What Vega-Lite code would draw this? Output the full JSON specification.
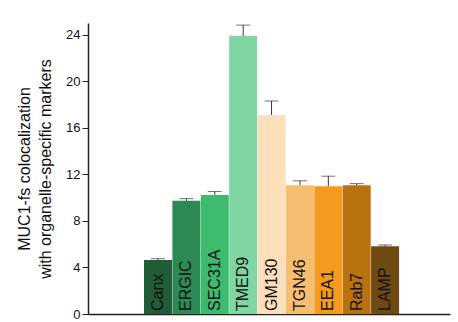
{
  "$schema": "https://vega.github.io/schema/vega-lite/v6.json",
  "width": 362,
  "height": 291,
  "autosize": {"type": "none"},
  "padding": {"left": 88, "top": 23, "right": 8, "bottom": 8},
  "background": "white",
  "config": {"view": {"stroke": null}, "font": "Liberation Sans"},
  "data": {
    "values": [
      {"pos": 1, "marker": "Canx", "value": 4.64, "upper": 4.75, "color": "#1f5c37"},
      {"pos": 2, "marker": "ERGIC", "value": 9.72, "upper": 9.91, "color": "#2e8a54"},
      {"pos": 3, "marker": "SEC31A", "value": 10.23, "upper": 10.52, "color": "#3cbb6c"},
      {"pos": 4, "marker": "TMED9", "value": 23.9, "upper": 24.82, "color": "#7fd6a2"},
      {"pos": 5, "marker": "GM130", "value": 17.1, "upper": 18.3, "color": "#fde0bb"},
      {"pos": 6, "marker": "TGN46", "value": 11.07, "upper": 11.44, "color": "#f7be72"},
      {"pos": 7, "marker": "EEA1", "value": 10.98, "upper": 11.84, "color": "#f49a1c"},
      {"pos": 8, "marker": "Rab7", "value": 11.07, "upper": 11.2, "color": "#b8720f"},
      {"pos": 9, "marker": "LAMP", "value": 5.82, "upper": 5.93, "color": "#6e4a12"}
    ]
  },
  "encoding": {
    "x": {
      "field": "pos",
      "type": "quantitative",
      "scale": {"domain": [-1.29, 11.11], "nice": false, "zero": false},
      "axis": {"title": null, "labels": false, "ticks": false, "grid": false, "domainColor": "#222", "domainWidth": 1.5}
    }
  },
  "layer": [
    {
      "mark": {"type": "bar", "size": 28},
      "encoding": {
        "y": {
          "field": "value",
          "type": "quantitative",
          "scale": {"domain": [0, 25], "nice": false},
          "axis": {
            "values": [0, 4, 8, 12, 16, 20, 24],
            "grid": false,
            "title": ["MUC1-fs colocalization", "with organelle-specific markers"],
            "titleFont": "Liberation Sans",
            "titleFontSize": 16,
            "titleFontWeight": "normal",
            "titleColor": "#111",
            "titlePadding": 12,
            "titleLineHeight": 21,
            "labelFontSize": 13,
            "labelColor": "#111",
            "labelPadding": 2,
            "tickSize": 6,
            "tickColor": "#222",
            "domainColor": "#222",
            "domainWidth": 1.5
          }
        },
        "color": {"field": "color", "type": "nominal", "scale": null}
      }
    },
    {
      "mark": {"type": "rule", "color": "#333", "strokeWidth": 1},
      "encoding": {
        "y": {"field": "value", "type": "quantitative"},
        "y2": {"field": "upper"}
      }
    },
    {
      "mark": {"type": "tick", "color": "#333", "thickness": 1, "size": 14, "orient": "horizontal"},
      "encoding": {
        "y": {"field": "upper", "type": "quantitative"}
      }
    },
    {
      "mark": {"type": "text", "angle": 270, "align": "left", "baseline": "middle", "dx": 3, "fontSize": 16, "color": "#111"},
      "encoding": {
        "y": {"datum": 0, "type": "quantitative"},
        "text": {"field": "marker"}
      }
    }
  ]
}
